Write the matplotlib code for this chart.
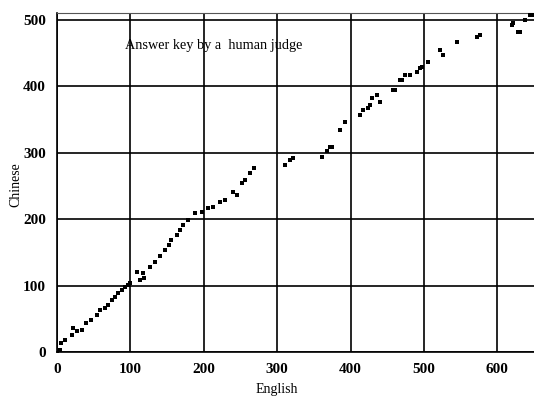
import matplotlib
matplotlib.use("Agg")
import matplotlib.pyplot as plt

english = [0, 4, 6, 11, 20, 22, 27, 34, 40, 47, 54, 59, 65, 70, 75, 79, 83, 88, 93, 97,
           100, 109, 113, 117, 118, 127, 134, 140, 147, 152, 156, 163, 168, 172, 179, 188,
           197, 206, 213, 222, 229, 240, 245, 252, 256, 263, 268,
           311, 318, 322, 361, 368, 372, 375, 386, 392, 413, 417, 424, 426, 429, 436, 440,
           458, 461, 467, 470, 474, 481, 490, 495, 497, 506, 522, 526, 545, 572, 577,
           620, 622, 628, 631, 638, 645, 647]
chinese = [0, 3, 13, 18, 26, 36, 31, 33, 44, 48, 56, 63, 66, 71, 78, 83, 89, 93, 98, 101,
           104, 121, 108, 119, 111, 128, 136, 144, 154, 161, 169, 176, 184, 191, 199, 209,
           211, 217, 219, 226, 229, 241, 236, 254, 259, 269, 277,
           282, 289, 292, 294, 302, 309, 309, 334, 347, 357, 364, 367, 372, 382, 387, 377,
           395, 395, 410, 410, 417, 417, 422, 428, 430, 437, 455, 447, 467, 475, 477,
           492, 495, 482, 482, 500, 508, 507]

xticks = [0, 100, 200, 300, 400, 500, 600]
yticks = [0, 100, 200, 300, 400, 500]

plt.rcParams['font.family'] = ['Liberation Serif', 'DejaVu Serif']

fig = plt.figure(figsize=(5.34, 4.01), dpi=100)
ax = fig.add_axes([57/534, 0.1222, 1 - 57/534, 0.9666 - 0.1222])
ax.set_xlim(0, 650)
ax.set_ylim(0, 510)

ax.scatter(english, chinese, s=7, marker='s', color='black', linewidths=0, zorder=3)

ax.set_xticks(xticks)
ax.set_yticks(yticks)
ax.set_xticklabels([str(t) for t in xticks], fontsize=11, fontweight='bold')
ax.set_yticklabels([str(t) for t in yticks], fontsize=11, fontweight='bold')
ax.tick_params(length=0, pad=8)
ax.grid(True, color='black', linewidth=1.2)
ax.set_axisbelow(True)

ax.spines['top'].set_linestyle((0, (1, 1)))
ax.spines['top'].set_color('#555555')
ax.spines['right'].set_visible(False)
ax.spines['left'].set_linewidth(1.2)
ax.spines['bottom'].set_linewidth(1.2)

ax.set_xlabel('English', fontsize=10)
ax.set_ylabel('Chinese', fontsize=10)
ax.xaxis.set_label_coords((277 - 57) / 477, (352 - 383) / 338.6)
ax.yaxis.set_label_coords((22 - 57) / 477, (352 - 185) / 338.6)

ax.text(68/477, 0.905, 'Answer key by a  human judge', transform=ax.transAxes,
        fontsize=10.3, ha='left', va='center')

fig.savefig('out.png', dpi=100)
